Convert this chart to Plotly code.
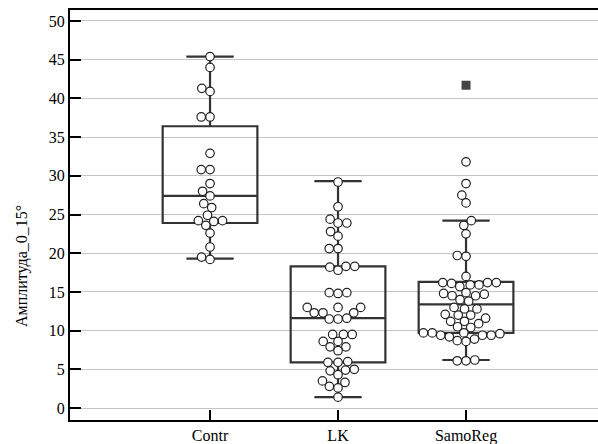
import math
import plotly.graph_objects as go

categories = ["Contr", "LK", "SamoReg"]

contr_vals = [45.4, 44.0, 41.3, 40.9, 37.6, 37.6, 32.9, 30.8, 30.8, 29.0, 28.0, 27.4,
              26.4, 25.9, 24.9, 24.2, 24.1, 24.2, 23.6, 22.6, 20.8, 19.5, 19.2]
lk_vals = [29.2, 26.0, 24.4, 23.9, 23.9, 22.8, 22.2, 20.6, 20.6, 18.3, 18.3, 18.2, 17.8,
           14.9, 14.9, 14.8,
           13.0, 13.0, 13.0, 12.3, 12.3, 12.3, 11.5, 11.5, 11.6,
           9.5, 9.5, 9.5, 8.6, 8.6, 7.9, 7.9, 7.4,
           5.9, 5.9, 6.0, 5.0, 4.9, 4.8, 4.3,
           3.5, 3.3, 2.8, 2.6, 1.4]
samo_vals = [31.8, 29.0, 27.5, 26.5, 24.2, 23.6, 22.5, 19.7, 19.6, 17.0,
             16.2, 16.2, 16.2, 16.1, 15.9, 15.9, 15.7,
             14.9, 14.8, 14.7, 14.5, 14.5,
             14.0, 13.8,
             13.0, 12.8, 12.8,
             12.1, 12.0, 12.0,
             11.6, 11.2, 11.2,
             10.9, 10.5, 10.4,
             9.7, 9.7, 9.7, 9.6, 9.4, 9.4, 9.4, 9.2,
             8.9, 8.7, 8.6,
             6.2, 6.1, 6.1]
samo_outliers = [41.7]

box_lower = [19.3, 1.4, 6.2]
box_q1 = [23.9, 5.9, 9.7]
box_median = [27.4, 11.6, 13.4]
box_q3 = [36.4, 18.3, 16.3]
box_upper = [45.4, 29.3, 24.2]

y_ticks = list(range(0, 55, 5))

# layout geometry
W, H = 598, 444
ml, mr, mt, mb = 70, 0, 10, 24
xr = [-1.094, 3.031]
yr = [-1.55, 51.42]
xscale = (W - ml - mr) / (xr[1] - xr[0])
yscale = (H - mt - mb) / (yr[1] - yr[0])


def swarm(vals, d_px):
    order = sorted(range(len(vals)), key=lambda i: vals[i])
    placed = []
    out = [0.0] * len(vals)
    for i in order:
        y = vals[i] * yscale
        cands = [0.0]
        for px, py in placed:
            dy = y - py
            if abs(dy) < d_px:
                dx = math.sqrt(d_px ** 2 - dy ** 2)
                cands += [px + dx, px - dx]
        cands.sort(key=lambda c: (abs(c), c))
        for c in cands:
            if all((c - px) ** 2 + (y - py) ** 2 >= d_px ** 2 - 1e-6 for px, py in placed):
                out[i] = c
                placed.append((c, y))
                break
    return [o / xscale for o in out]


fig = go.Figure()

for k in range(3):
    fig.add_trace(go.Box(
        x=[k], q1=[box_q1[k]], median=[box_median[k]], q3=[box_q3[k]],
        lowerfence=[box_lower[k]], upperfence=[box_upper[k]],
        width=0.74, whiskerwidth=0.5, boxpoints=False,
        fillcolor="rgba(0,0,0,0)", line=dict(color="#333333", width=2.2),
        hoverinfo="skip", showlegend=False,
    ))

for k, vals in enumerate([contr_vals, lk_vals, samo_vals]):
    offs = swarm(vals, 8.8)
    fig.add_trace(go.Scatter(
        x=[k + o for o in offs], y=vals, mode="markers",
        marker=dict(symbol="circle", size=8.5, color="white",
                    line=dict(color="#222222", width=1.2)),
        showlegend=False,
    ))

fig.add_trace(go.Scatter(
    x=[2] * len(samo_outliers), y=samo_outliers, mode="markers",
    marker=dict(symbol="square", size=9, color="#444444"),
    showlegend=False,
))

font = dict(family="Liberation Serif", size=16, color="black")

fig.update_layout(
    template="none",
    width=W, height=H,
    margin=dict(l=ml, r=mr, t=mt, b=mb, pad=0, autoexpand=False),
    paper_bgcolor="white", plot_bgcolor="white",
    font=font,
    xaxis=dict(range=xr, tickvals=[0, 1, 2], ticktext=categories,
               ticks="inside", ticklen=10, tickwidth=2, tickcolor="black",
               showline=True, linewidth=2, linecolor="black", mirror=True,
               showgrid=False, zeroline=False, tickfont=font, automargin=False),
    yaxis=dict(range=yr, tickvals=y_ticks, ticktext=[str(v) for v in y_ticks],
               ticks="inside", ticklen=11, tickwidth=2, tickcolor="black",
               showline=True, linewidth=2, linecolor="black", mirror=False,
               showgrid=True, gridcolor="#c4c4c4", gridwidth=1,
               zeroline=False, tickfont=font, automargin=False),
    annotations=[dict(text="Амплитуда_0_15°", xref="paper", yref="paper",
                      x=(22 - ml) / (W - ml - mr), y=(H - mb - 266) / (H - mt - mb),
                      textangle=-90, showarrow=False, font=font,
                      xanchor="center", yanchor="middle")],
)

fig.write_html(
    "out.html",
    config={"displayModeBar": False},
    post_script="document.documentElement.style.overflow='hidden';document.body.style.overflow='hidden';document.body.style.margin='0';",
)
